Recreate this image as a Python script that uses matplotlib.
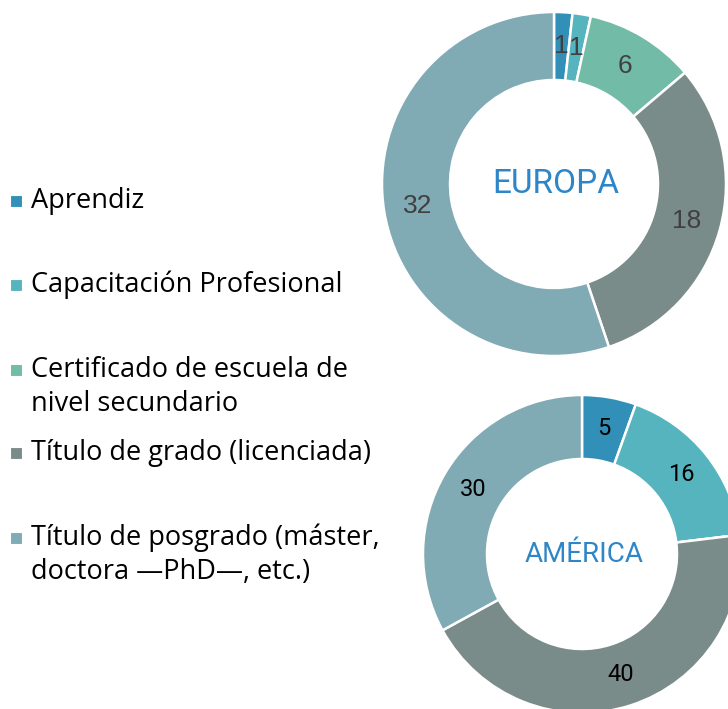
import matplotlib

matplotlib.use("Agg")
import matplotlib.pyplot as plt
from matplotlib.patches import Rectangle

# categories and values
categories = [
    "Aprendiz",
    "Capacitación Profesional",
    "Certificado de escuela de\nnivel secundario",
    "Título de grado (licenciada)",
    "Título de posgrado (máster,\ndoctora —PhD—, etc.)",
]
europa = [1, 1, 6, 18, 32]
america = [5, 16, 0, 40, 30]
colors = ["#318FB8", "#56B4BE", "#72BBA6", "#7A8C89", "#80AAB4"]

W, H = 728, 709
fig = plt.figure(figsize=(W / 100, H / 100), dpi=100)
ax = fig.add_axes([0, 0, 1, 1])


def donut(values, cx, cy, r_out, r_in, title, title_size,
          label_color, label_font, label_size):
    total = sum(values)

    def fmt(p):
        v = p * total / 100
        return "" if v < 0.5 else f"{v:.0f}"

    _, _, texts = ax.pie(
        values, colors=colors, startangle=90, counterclock=False,
        center=(cx, H - cy), radius=r_out, autopct=fmt,
        pctdistance=(r_out + r_in) / 2 / r_out,
        wedgeprops=dict(width=r_out - r_in, edgecolor="white", linewidth=1.8),
    )
    for t in texts:
        t.set_color(label_color)
        t.set_fontsize(label_size)
        t.set_family(label_font)
    ax.text(cx + 2, H - cy, title, ha="center", va="center", fontsize=title_size,
            family="Roboto", color="#2E86C8")


donut(europa, 554, 184, 172, 104, "EUROPA", 24, "#404040", "Liberation Sans", 19)
donut(america, 582, 554, 159, 95, "AMÉRICA", 20, "black", "Roboto", 17)

# legend drawn by hand: first-line baselines are evenly spaced
legend_base = [208, 292, 377, 460, 545]
line_gap = 34
for name, col, yb in zip(categories, colors, legend_base):
    ax.add_patch(Rectangle((10, H - yb + 1), 12, 12, facecolor=col,
                           edgecolor="white", linewidth=0.8))
    for i, line in enumerate(name.split("\n")):
        ax.text(31, H - yb - i * line_gap, line, ha="left", va="baseline",
                fontsize=19.5, family="Open Sans", color="black")

ax.set_xlim(0, W)
ax.set_ylim(0, H)
ax.set_aspect("equal")
ax.axis("off")

fig.savefig("out.png", dpi=100, facecolor="white")
